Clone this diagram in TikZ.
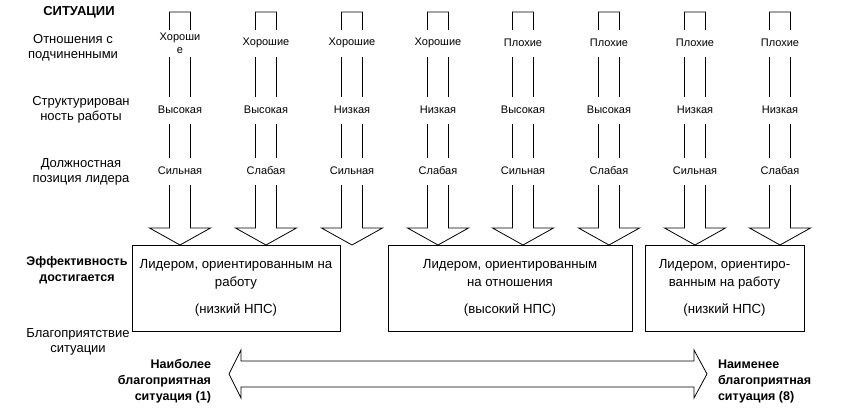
\documentclass[tikz,border=0pt]{standalone}
\usepackage{fontspec}
\setmainfont{Liberation Sans}
\usetikzlibrary{positioning}

\begin{document}
\begin{tikzpicture}[x=1pt,y=-1pt,line width=0.8pt,every node/.style={inner sep=0,outer sep=0},
    lbl/.style={font=\fontsize{11}{13}\selectfont,fill=white,minimum height=27pt,minimum width=24pt,align=center},
    side/.style={font=\fontsize{13}{15}\selectfont,align=center},
    boldside/.style={font=\fontsize{12.5}{16}\selectfont\bfseries,align=center},
    res/.style={draw,font=\fontsize{13.2}{18}\selectfont,align=center,minimum height=86pt}]
    \useasboundingbox (0,0) rectangle (854,408);

    % column arrows
    \foreach \x/\ra/\rb/\rc [count=\i] in {180/{Хороши\\е}/Высокая/Сильная,
        266/Хорошие/Высокая/Слабая, 352/Хорошие/Низкая/Сильная,
        438/Хорошие/Низкая/Слабая, 523/Плохие/Высокая/Сильная,
        609/Плохие/Высокая/Слабая, 695/Плохие/Низкая/Сильная,
        780/Плохие/Низкая/Слабая}{
      \draw (\x-10.5,228) -- (\x-10.5,12) -- (\x+10.5,12) -- (\x+10.5,228)
        -- (\x+30.5,228) -- (\x,245) -- (\x-30.5,228) -- cycle;
      \node(rel\i)[lbl] at (\x,43){\ra};
      \node(str\i)[lbl] at (\x,110){\rb};
      \node(pos\i)[lbl] at (\x,171){\rc};
    }

    \node(sit)[boldside,font=\fontsize{13}{16}\selectfont\bfseries] at (79,12){СИТУАЦИИ};
    \node(rel)[side] at (73,48){Отношения с\\подчиненными};
    \node(str)[side] at (81,110){Структурирован\\ность работы};
    \node(pos)[side] at (81,172){Должностная\\позиция лидера};
    \node(eff)[boldside] at (77,270){Эффективность\\достигается};
    \node(fav)[side] at (78,342){Благоприятствие\\ситуации};

    \node(task1)[res,minimum width=208pt] at (236,288){Лидером, ориентированным на\\работу\\[9pt](низкий НПС)};
    \node(relat)[res,minimum width=244pt] at (510,288){Лидером, ориентированным\\на отношения\\[9pt](высокий НПС)};
    \node(task2)[res,minimum width=159pt] at (724.5,288){Лидером, ориентиро-\\ванным на работу\\[9pt](низкий НПС)};

    % favourableness scale
    \draw (229,374) -- (241,350) -- (241,361) -- (694,361) -- (694,350) -- (707,374)
      -- (694,398) -- (694,387) -- (241,387) -- (241,398) -- cycle;
    \node(most)[boldside,align=right,anchor=east] at (211,381){Наиболее\\благоприятная\\ситуация (1)};
    \node(least)[boldside,align=left,anchor=west] at (718,381){Наименее\\благоприятная\\ситуация (8)};
\end{tikzpicture}
\end{document}
